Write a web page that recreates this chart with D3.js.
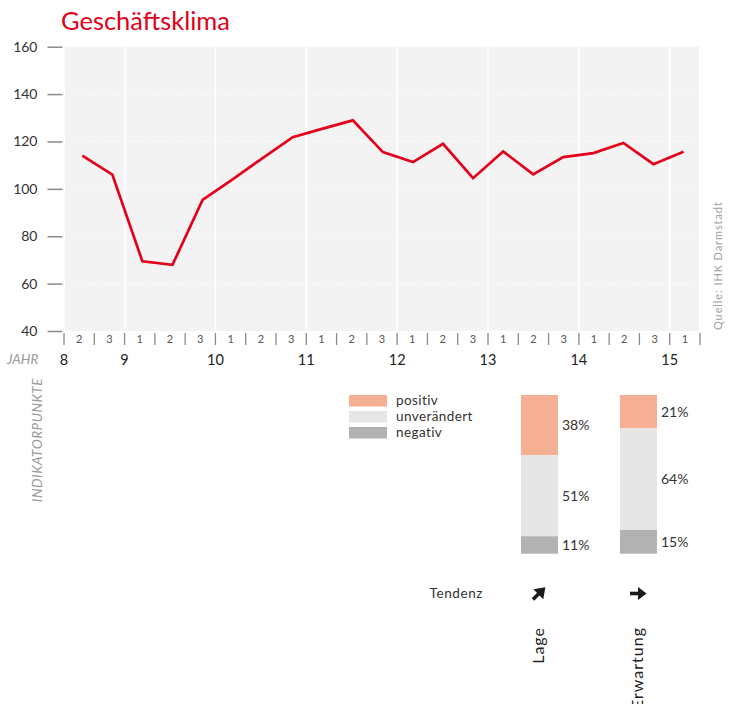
<!DOCTYPE html>
<html>
<head>
<meta charset="utf-8">
<script src="https://cdn.jsdelivr.net/npm/d3@7"></script>
<style>
  html, body { margin: 0; padding: 0; background: #fff; }
  svg { display: block; font-family: Lato, "Open Sans", sans-serif; }
</style>
</head>
<body>
<svg id="chart" width="735" height="704"></svg>
<script>
// ---------- data ----------
const quarterLabels = ["2","3","1","2","3","1","2","3","1","2","3","1","2","3","1","2","3","1","2","3","1"];
const klimaValues = [114, 106, 69.4, 67.9, 95.3, 104, 113, 121.8, 125.4, 128.9, 115.5, 111.3, 119.0, 104.5, 115.8, 106.1, 113.4, 115.1, 119.4, 110.4, 115.7];
const yearLabels = ["8","9","10","11","12","13","14","15"];
const yearStartIndex = [0, 2, 5, 8, 11, 14, 17, 20];
const yTicks = [40, 60, 80, 100, 120, 140, 160];

const indicatorCategories = ["Lage", "Erwartung"];
const positivValues = [38, 21];
const unveraendertValues = [51, 64];
const negativValues = [11, 15];
const tendenz = ["steigend", "gleich"];
const legendLabels = ["positiv", "unverändert", "negativ"];

// ---------- setup ----------
const svg = d3.select("#chart");
const red = "#e2001a";

// title
const title = svg.append("text")
  .attr("x", 61).attr("y", 30)
  .attr("fill", red)
  .attr("font-size", 26)
  .text("Geschäftsklima");
{
  const w = title.node().getComputedTextLength();
  title.attr("font-size", 26 * 169 / w);
}

// scales
const plotLeft = 64, plotRight = 700, plotTop = 46.7, plotBottom = 331;
const idx = d3.range(quarterLabels.length);
const xBand = d3.scaleBand().domain(idx).range([plotLeft, plotRight]).padding(0);
const xLine = d3.scalePoint().domain(idx).range([82.3, 683.5]);
const y = d3.scaleLinear().domain([40, 160]).range([plotBottom, plotTop]);

// plot background
svg.append("rect")
  .attr("x", plotLeft - 0.5).attr("y", y(160))
  .attr("width", plotRight - plotLeft - 0.5).attr("height", y(40) - y(160))
  .attr("fill", "#f3f3f3");

// vertical white year lines
svg.append("g").selectAll("line")
  .data(yearStartIndex)
  .join("line")
  .attr("x1", d => xBand(d)).attr("x2", d => xBand(d))
  .attr("y1", y(160)).attr("y2", y(40))
  .attr("stroke", "#fff").attr("stroke-width", 1.6);

// horizontal dotted gridlines
svg.append("g").selectAll("line")
  .data(yTicks.filter(d => d > 40 && d < 160))
  .join("line")
  .attr("x1", plotLeft).attr("x2", plotRight - 1)
  .attr("y1", d => y(d)).attr("y2", d => y(d))
  .attr("stroke", "#fff").attr("stroke-width", 1.2)
  .attr("stroke-dasharray", "1.2,2.2");

// y axis
const yAxis = d3.axisLeft(y).tickValues(yTicks).tickSize(15).tickPadding(10);
const yg = svg.append("g").attr("transform", `translate(${plotLeft - 1.5},0)`).call(yAxis);
yg.select(".domain").remove();
yg.selectAll(".tick line").attr("stroke", "#8a8a8a").attr("stroke-width", 1.5);
yg.selectAll(".tick text").attr("font-size", 14).attr("fill", "#333")
  .attr("font-family", "Lato, sans-serif");

// x axis quarter ticks
const boundaries = d3.range(quarterLabels.length + 1);
svg.append("g").selectAll("line")
  .data(boundaries)
  .join("line")
  .attr("x1", d => plotLeft + d * xBand.step()).attr("x2", d => plotLeft + d * xBand.step())
  .attr("y1", 333).attr("y2", 345)
  .attr("stroke", "#8a8a8a").attr("stroke-width", 1.3);

svg.append("g").selectAll("text")
  .data(quarterLabels)
  .join("text")
  .attr("x", (d, i) => xBand(i) + xBand.bandwidth() / 2)
  .attr("y", 343)
  .attr("text-anchor", "middle")
  .attr("font-size", 11).attr("fill", "#555")
  .text(d => d);

// year labels
svg.append("g").selectAll("text")
  .data(yearLabels)
  .join("text")
  .attr("x", (d, i) => xBand(yearStartIndex[i]))
  .attr("y", 365)
  .attr("text-anchor", "middle")
  .attr("font-size", 14.5).attr("fill", "#222")
  .text(d => d);

svg.append("text")
  .attr("x", 7).attr("y", 364)
  .attr("font-size", 13.5).attr("font-style", "italic").attr("fill", "#9a9a9a")
  .text("JAHR");

// line
const line = d3.line().x((d, i) => xLine(i)).y(d => y(d));
svg.append("path")
  .datum(klimaValues)
  .attr("d", line)
  .attr("fill", "none")
  .attr("stroke", red)
  .attr("stroke-width", 2.7)
  .attr("stroke-linejoin", "miter");

// source
svg.append("text")
  .attr("transform", "translate(722,330) rotate(-90)")
  .attr("font-size", 11).attr("fill", "#a0a0a0")
  .attr("letter-spacing", 0.9)
  .text("Quelle: IHK Darmstadt");

// INDIKATORPUNKTE
svg.append("text")
  .attr("transform", "translate(41.5,378) rotate(-90)")
  .attr("text-anchor", "end")
  .attr("font-size", 13.5).attr("font-style", "italic").attr("fill", "#9a9a9a")
  .attr("letter-spacing", 0.5)
  .text("INDIKATORPUNKTE");

// ---------- stacked indicator bars ----------
const barTop = 395, barHeight = 158.7, barWidth = 37;
const xCat = d3.scalePoint().domain(indicatorCategories).range([539.5, 638.5]);
const hScale = d3.scaleLinear().domain([0, 100]).range([0, barHeight]);
const segColors = ["#f5b093", "#e6e6e6", "#b2b2b2"];

const stackRows = indicatorCategories.map((c, i) => ({
  cat: c, positiv: positivValues[i], unveraendert: unveraendertValues[i], negativ: negativValues[i]
}));
const stack = d3.stack().keys(["positiv", "unveraendert", "negativ"]);
const series = stack(stackRows);

series.forEach((s, k) => {
  const g = svg.append("g");
  g.selectAll("rect")
    .data(s)
    .join("rect")
    .attr("x", d => xCat(d.data.cat) - barWidth / 2)
    .attr("y", d => barTop + hScale(d[0]))
    .attr("width", barWidth)
    .attr("height", d => hScale(d[1]) - hScale(d[0]))
    .attr("fill", segColors[k]);
  g.selectAll("text")
    .data(s)
    .join("text")
    .attr("x", d => xCat(d.data.cat) + barWidth / 2 + 4)
    .attr("y", d => barTop + hScale((d[0] + d[1]) / 2))
    .attr("dy", "0.35em")
    .attr("font-size", 14).attr("fill", "#333")
    .text(d => (d[1] - d[0]) + "%");
});

// legend
const leg = svg.append("g");
leg.selectAll("rect")
  .data(legendLabels)
  .join("rect")
  .attr("x", 349).attr("y", (d, i) => 395 + i * 16)
  .attr("width", 38).attr("height", 11.5)
  .attr("fill", (d, i) => segColors[i]);
leg.selectAll("text")
  .data(legendLabels)
  .join("text")
  .attr("x", 396).attr("y", (d, i) => 405 + i * 16)
  .attr("font-size", 13.5).attr("fill", "#333")
  .attr("letter-spacing", 0.4)
  .text(d => d);

// Tendenz
svg.append("text")
  .attr("x", 483).attr("y", 598)
  .attr("text-anchor", "end")
  .attr("font-size", 13.5).attr("fill", "#333")
  .attr("letter-spacing", 0.6)
  .text("Tendenz");

const arrowAngle = { steigend: -45, gleich: 0 };
const arrows = svg.append("g").selectAll("g")
  .data(indicatorCategories)
  .join("g")
  .attr("transform", (d, i) => `translate(${xCat(d) - 0.5},593.5) rotate(${arrowAngle[tendenz[i]]})`);
arrows.append("line")
  .attr("x1", (d, i) => tendenz[i] === "gleich" ? -8 : -8.5).attr("x2", 1)
  .attr("y1", 0).attr("y2", 0)
  .attr("stroke", "#1a1a1a").attr("stroke-width", 3.6);
arrows.append("path")
  .attr("d", (d, i) => tendenz[i] === "gleich" ? "M0,-6.5 L8.5,0 L0,6.5 Z" : "M-1,-7 L9,0 L-1,7 Z")
  .attr("fill", "#1a1a1a");

// rotated category labels
svg.append("g").selectAll("text")
  .data(indicatorCategories)
  .join("text")
  .attr("transform", d => `translate(${xCat(d) + 4},627) rotate(-90)`)
  .attr("text-anchor", "end")
  .attr("font-size", 16).attr("fill", "#222")
  .attr("letter-spacing", 1)
  .text(d => d);
</script>
</body>
</html>
